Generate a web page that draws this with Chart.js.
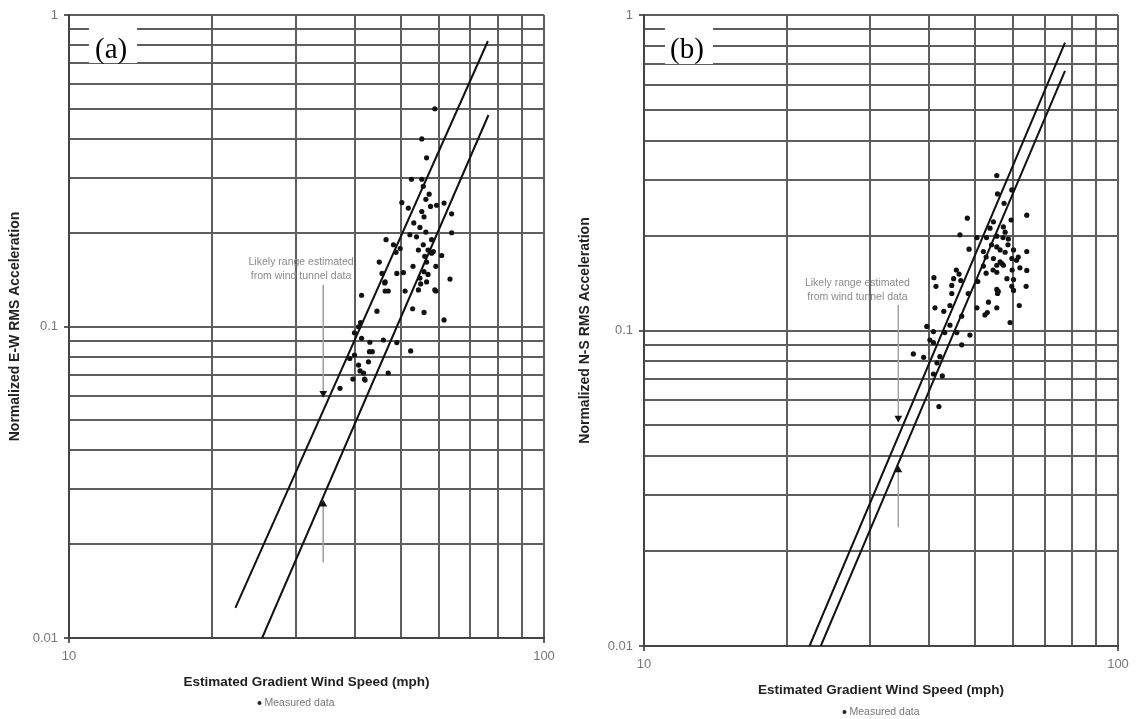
<!DOCTYPE html>
<html><head><meta charset="utf-8">
<script src="https://cdn.jsdelivr.net/npm/chart.js@4.4.0/dist/chart.umd.min.js"></script>
<style>
html,body{margin:0;padding:0;background:#fff;width:1137px;height:719px;overflow:hidden}
canvas{position:absolute;top:0}
#ca{left:0}
#cb{left:570px}
</style></head><body>
<canvas id="ca" width="570" height="719"></canvas>
<canvas id="cb" width="567" height="719"></canvas>
<script>
// ---------------- data ----------------
const xTickValues = [10,20,30,40,50,60,70,80,90,100];
const xTickLabels = ['10','','','','','','','','','100'];
const yTickValues = [0.01,0.02,0.03,0.04,0.05,0.06,0.07,0.08,0.09,0.1,0.2,0.3,0.4,0.5,0.6,0.7,0.8,0.9,1];
const yTickLabels = ['0.01','','','','','','','','','0.1','','','','','','','','','1'];

const xTitle = 'Estimated Gradient Wind Speed (mph)';
const ewYTitle = 'Normalized E-W RMS Acceleration';
const nsYTitle = 'Normalized N-S RMS Acceleration';
const legendLabel = 'Measured data';
const noteLines = ['Likely range estimated', 'from wind tunnel data'];

// (a) E-W measured data
const ewSpeed = [58.9,55.3,56.6,52.6,55.3,55.7,57.3,56.4,59.4,57.7,61.6,50.2,51.8,63.9,55.3,55.9,53.2,54.8,56.4,52.2,
  53.9,63.9,46.5,48.2,49.8,55.7,58.0,48.8,54.4,57.0,58.0,56.1,60.9,45.0,56.6,59.2,45.6,49.0,50.6,53.0,
  55.9,57.0,46.3,46.3,47.0,51.0,54.4,59.2,63.4,41.3,55.0,44.5,52.9,55.9,61.6,41.1,40.7,39.9,41.3,43.0,
  45.9,49.0,42.9,43.5,39.9,39.0,42.7,40.7,41.0,41.7,47.0,39.6,52.4,37.2,41.9,54.8,56.6,58.9,58.5,42.0,46.2];
const ewAccel = [0.50,0.40,0.348,0.297,0.297,0.282,0.266,0.256,0.245,0.243,0.249,0.250,0.240,0.230,0.234,0.225,0.215,0.208,0.201,0.197,
  0.194,0.200,0.190,0.183,0.178,0.183,0.190,0.173,0.176,0.176,0.172,0.168,0.169,0.161,0.161,0.156,0.148,0.148,0.149,0.156,
  0.150,0.147,0.139,0.130,0.130,0.130,0.131,0.130,0.142,0.126,0.137,0.112,0.114,0.111,0.105,0.103,0.0998,0.0955,0.0916,0.0890,
  0.0905,0.0888,0.083,0.083,0.081,0.079,0.077,0.0752,0.072,0.0709,0.0709,0.0678,0.0835,0.0633,0.0678,0.143,0.139,0.131,0.174,0.0673,0.138];
const ewUpperSpeed = [22.4, 76.2];
const ewUpperAccel = [0.0125, 0.825];
const ewLowerSpeed = [25.5, 76.4];
const ewLowerAccel = [0.01, 0.4775];
const ewRangeSpeed = [34.3];
const ewRangeHigh = [0.0611];
const ewRangeLow = [0.0269];
const ewLeaderSpeed = [34.3, 34.3];
const ewLeaderTop = [0.136, 0.0611];
const ewLeaderBottom = [0.0269, 0.0175];

// (b) N-S measured data
const nsSpeed = [55.5,55.7,59.7,57.5,48.1,64.2,54.6,59.5,57.3,46.4,50.4,52.8,55.5,57.2,58.7,54.1,55.5,48.5,52.0,56.4,
  57.8,64.2,52.7,54.6,56.4,59.7,61.6,61.1,55.5,57.3,64.2,52.7,55.5,58.3,60.2,40.9,46.2,50.6,41.3,64.0,
  55.5,60.2,44.6,48.3,55.7,53.3,61.9,44.2,41.1,42.9,50.4,55.5,53.0,52.4,46.8,59.2,39.5,44.2,40.8,43.1,
  45.7,48.7,40.1,40.8,46.8,37.0,38.9,42.1,41.5,40.8,42.6,41.9,45.6,45.0,44.6,56.9,59.7,55.9,52.0,53.7,
  57.8,54.5,60.2,58.6,62.1,59.8,46.6];
const nsAccel = [0.310,0.271,0.279,0.253,0.227,0.232,0.221,0.224,0.213,0.201,0.197,0.197,0.199,0.197,0.195,0.187,0.184,0.181,0.178,0.180,
  0.177,0.178,0.171,0.169,0.165,0.169,0.171,0.167,0.161,0.161,0.155,0.152,0.153,0.146,0.145,0.147,0.151,0.143,0.138,0.138,
  0.135,0.134,0.131,0.131,0.131,0.123,0.120,0.120,0.118,0.115,0.118,0.118,0.114,0.112,0.111,0.106,0.103,0.104,0.0992,0.0985,
  0.0985,0.0967,0.0933,0.0915,0.0901,0.0843,0.0822,0.0826,0.079,0.0728,0.0718,0.0574,0.1555,0.146,0.139,0.163,0.138,0.133,0.160,0.211,
  0.205,0.1555,0.180,0.187,0.158,0.1555,0.144];
const nsUpperSpeed = [22.35, 77.3];
const nsUpperAccel = [0.01, 0.817];
const nsLowerSpeed = [23.6, 77.3];
const nsLowerAccel = [0.01, 0.665];
const nsRangeSpeed = [34.4];
const nsRangeHigh = [0.0528];
const nsRangeLow = [0.0361];
const nsLeaderSpeed = [34.4, 34.4];
const nsLeaderTop = [0.1205, 0.0528];
const nsLeaderBottom = [0.0361, 0.0238];

// ---------------- drawing ----------------
const pts = (xs, ys) => xs.map((x, i) => ({x, y: ys[i]}));
const GRID = '#5e5e5e';
const FONT = '"Liberation Sans", Arial, sans-serif';

const decor = {
  id: 'decor',
  afterDraw(chart, args, o) {
    const {ctx, chartArea: ca, scales: {x, y}} = chart;
    ctx.save();
    // panel label
    ctx.fillStyle = '#fff';
    ctx.fillRect(ca.left + o.boxDx, o.boxY, o.boxW, o.boxH);
    ctx.fillStyle = '#000';
    ctx.font = '29px "Liberation Serif", "Times New Roman", serif';
    ctx.textBaseline = 'middle';
    ctx.textAlign = 'left';
    ctx.fillText(o.panel, ca.left + o.textDx, o.textY);
    // note text
    ctx.font = '10.5px ' + FONT;
    ctx.fillStyle = '#8a8a8a';
    ctx.textAlign = 'center';
    const nx = x.getPixelForValue(o.noteSpeed);
    o.noteAccel.forEach((a, i) => ctx.fillText(noteLines[i], nx, y.getPixelForValue(a)));
    // legend
    ctx.font = '10.5px ' + FONT;
    const label = chart.data.datasets[0].label;
    const tw = ctx.measureText(label).width;
    const total = tw + 7;
    const lx = o.legendX - total / 2;
    ctx.fillStyle = '#222';
    ctx.beginPath();
    ctx.arc(lx + 2, o.legendY, 2, 0, Math.PI * 2);
    ctx.fill();
    ctx.fillStyle = '#777';
    ctx.textAlign = 'left';
    ctx.fillText(label, lx + 7, o.legendY);
    ctx.restore();
  }
};

function makeChart(id, p) {
  const datasets = [
    {label: legendLabel, data: pts(p.speed, p.accel), showLine: false,
     pointRadius: 2.6, pointBackgroundColor: '#111', pointBorderWidth: 0, order: 1},
    {label: 'upper', data: pts(p.upS, p.upA), showLine: true, borderColor: '#111', borderWidth: 2, pointRadius: 0, order: 2},
    {label: 'lower', data: pts(p.loS, p.loA), showLine: true, borderColor: '#111', borderWidth: 2, pointRadius: 0, order: 2},
    {label: 'leaderTop', data: pts(p.leadS, p.leadTop), showLine: true, borderColor: '#a0a0a0', borderWidth: 1, pointRadius: 0, order: 3},
    {label: 'leaderBottom', data: pts(p.leadS, p.leadBot), showLine: true, borderColor: '#a0a0a0', borderWidth: 1, pointRadius: 0, order: 3},
    {label: 'rangeHigh', data: pts(p.rS, p.rHigh), showLine: false, pointStyle: 'triangle', rotation: 180,
     pointRadius: 4.5, pointBackgroundColor: '#111', pointBorderColor: '#111', pointBorderWidth: 0, order: 0},
    {label: 'rangeLow', data: pts(p.rS, p.rLow), showLine: false, pointStyle: 'triangle',
     pointRadius: 4.5, pointBackgroundColor: '#111', pointBorderColor: '#111', pointBorderWidth: 0, order: 0}
  ];
  return new Chart(document.getElementById(id), {
    type: 'scatter',
    data: {datasets},
    plugins: [decor],
    options: {
      responsive: false,
      devicePixelRatio: 1,
      animation: false,
      events: [],
      layout: {padding: {left: 0, top: 15, right: p.padRight, bottom: 0}},
      plugins: {
        legend: {display: false},
        tooltip: {enabled: false},
        decor: p.decor
      },
      scales: {
        x: {
          type: 'logarithmic', min: 10, max: 100,
          afterBuildTicks: s => { s.ticks = xTickValues.map(v => ({value: v})); },
          afterFit: s => { s.height = p.xH; },
          ticks: {autoSkip: false, maxRotation: 0, padding: 6, color: '#777',
                  font: {family: FONT, size: 13},
                  callback: (v, i) => xTickLabels[i]},
          grid: {color: GRID, lineWidth: 2, tickLength: 5,
                 tickColor: c => (xTickLabels[c.index] ? GRID : 'rgba(0,0,0,0)')},
          border: {color: '#444', width: 2},
          title: {display: true, text: xTitle, color: '#222',
                  font: {family: FONT, size: 13.5, weight: 'bold'},
                  padding: {top: 0, bottom: p.xTitlePad}}
        },
        y: {
          type: 'logarithmic', min: 0.01, max: 1,
          afterBuildTicks: s => { s.ticks = yTickValues.map(v => ({value: v})); },
          afterFit: s => { s.width = p.yW; },
          ticks: {autoSkip: false, padding: 6, color: '#777',
                  font: {family: FONT, size: 13},
                  callback: (v, i) => yTickLabels[i]},
          grid: {color: GRID, lineWidth: 2, tickLength: 5,
                 tickColor: c => (yTickLabels[c.index] ? GRID : 'rgba(0,0,0,0)')},
          border: {color: '#444', width: 2},
          title: {display: true, text: p.yTitle, color: '#222',
                  font: {family: FONT, size: 14, weight: 'bold'},
                  padding: {top: 7, bottom: 0}}
        }
      }
    }
  });
}

makeChart('ca', {
  speed: ewSpeed, accel: ewAccel, upS: ewUpperSpeed, upA: ewUpperAccel, loS: ewLowerSpeed, loA: ewLowerAccel,
  leadS: ewLeaderSpeed, leadTop: ewLeaderTop, leadBot: ewLeaderBottom, rS: ewRangeSpeed, rHigh: ewRangeHigh, rLow: ewRangeLow,
  yTitle: ewYTitle, yW: 69, padRight: 26, xH: 81, xTitlePad: 29,
  decor: {panel: '(a)', boxDx: 20, boxY: 28, boxW: 48, boxH: 35, textDx: 26, textY: 50,
          noteSpeed: 30.8, noteAccel: [0.161, 0.145], legendX: 296, legendY: 703}
});
makeChart('cb', {
  speed: nsSpeed, accel: nsAccel, upS: nsUpperSpeed, upA: nsUpperAccel, loS: nsLowerSpeed, loA: nsLowerAccel,
  leadS: nsLeaderSpeed, leadTop: nsLeaderTop, leadBot: nsLeaderBottom, rS: nsRangeSpeed, rHigh: nsRangeHigh, rLow: nsRangeLow,
  yTitle: nsYTitle, yW: 74, padRight: 19, xH: 73, xTitlePad: 21,
  decor: {panel: '(b)', boxDx: 21, boxY: 28, boxW: 48, boxH: 36, textDx: 26, textY: 50,
          noteSpeed: 28.2, noteAccel: [0.1413, 0.1276], legendX: 311, legendY: 712}
});
</script>
</body></html>
